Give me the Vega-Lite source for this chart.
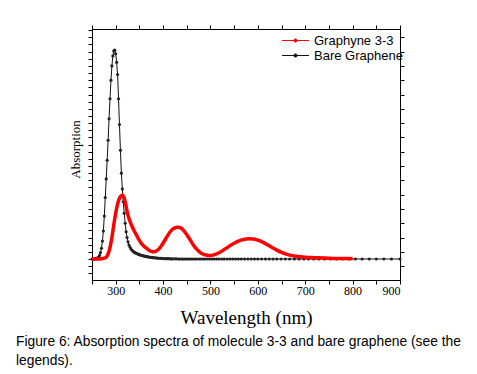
{
"$schema": "https://vega.github.io/schema/vega-lite/v6.json",
"autosize": {"type": "none"},
"width": 308,
"height": 251,
"padding": {"left": 92, "top": 29, "right": 77, "bottom": 94},
"background": "white",
"title": {"text": ["Figure 6: Absorption spectra of molecule 3-3 and bare graphene (see the", "legends)."], "orient": "bottom", "anchor": "start", "frame": "group", "dx": -76, "offset": 8, "font": "Liberation Sans", "fontSize": 13.8, "fontWeight": "normal", "color": "#000", "lineHeight": 19},
"datasets": {
"black": [
{"w":250,"a":0},{"w":252,"a":0},{"w":254,"a":0},{"w":256,"a":0.01},{"w":258,"a":0.02},{"w":260,"a":0.04},{"w":262,"a":0.08},{"w":264,"a":0.14},{"w":266,"a":0.25},{"w":268,"a":0.45},{"w":270,"a":0.75},{"w":272,"a":1.25},{"w":274,"a":1.95},{"w":276,"a":3.0},{"w":278,"a":4.3},{"w":280,"a":5.6},{"w":282,"a":6.9},{"w":284,"a":8.3},{"w":286,"a":9.8},{"w":288,"a":11.2},{"w":290,"a":12.5},{"w":292,"a":13.5},{"w":294,"a":14.2},{"w":296,"a":14.55},{"w":298,"a":14.6},{"w":300,"a":14.35},{"w":302,"a":13.75},{"w":304,"a":12.9},{"w":306,"a":11.2},{"w":308,"a":9.4},{"w":310,"a":7.6},{"w":312,"a":6.0},{"w":314,"a":4.9},{"w":316,"a":4.0},{"w":318,"a":3.2},{"w":320,"a":2.5},{"w":322,"a":1.9},{"w":324,"a":1.5},{"w":326,"a":1.2},{"w":328,"a":0.98},{"w":330,"a":0.84},{"w":332,"a":0.72},{"w":334,"a":0.63},{"w":336,"a":0.56},{"w":338,"a":0.5},{"w":340,"a":0.46},{"w":342,"a":0.42},{"w":344,"a":0.39},{"w":346,"a":0.36},{"w":348,"a":0.33},{"w":350,"a":0.3},{"w":352,"a":0.28},{"w":354,"a":0.26},{"w":357,"a":0.23},{"w":359,"a":0.21},{"w":361,"a":0.2},{"w":363,"a":0.18},{"w":366,"a":0.16},{"w":368,"a":0.15},{"w":370,"a":0.14},{"w":373,"a":0.12},{"w":375,"a":0.11},{"w":378,"a":0.1},{"w":380,"a":0.09},{"w":383,"a":0.08},{"w":386,"a":0.07},{"w":388,"a":0.06},{"w":391,"a":0.05},{"w":394,"a":0.05},{"w":397,"a":0.04},{"w":400,"a":0.03},{"w":403,"a":0.03},{"w":406,"a":0.02},{"w":409,"a":0.02},{"w":412,"a":0.02},{"w":415,"a":0.01},{"w":418,"a":0.01},{"w":421,"a":0.01},{"w":425,"a":0.01},{"w":428,"a":0.01},{"w":432,"a":0},{"w":435,"a":0},{"w":439,"a":0},{"w":442,"a":0},{"w":446,"a":0},{"w":450,"a":0},{"w":454,"a":0},{"w":458,"a":0},{"w":462,"a":0},{"w":466,"a":0},{"w":470,"a":0},{"w":475,"a":0},{"w":479,"a":0},{"w":484,"a":0},{"w":488,"a":0},{"w":493,"a":0},{"w":498,"a":0},{"w":503,"a":0},{"w":508,"a":0},{"w":513,"a":0},{"w":518,"a":0},{"w":524,"a":0},{"w":529,"a":0},{"w":535,"a":0},{"w":541,"a":0},{"w":547,"a":0},{"w":553,"a":0},{"w":559,"a":0},{"w":565,"a":0},{"w":572,"a":0},{"w":579,"a":0},{"w":586,"a":0},{"w":593,"a":0},{"w":600,"a":0},{"w":608,"a":0},{"w":616,"a":0},{"w":624,"a":0},{"w":632,"a":0},{"w":640,"a":0},{"w":649,"a":0},{"w":658,"a":0},{"w":667,"a":0},{"w":677,"a":0},{"w":687,"a":0},{"w":697,"a":0},{"w":707,"a":0},{"w":718,"a":0},{"w":729,"a":0},{"w":741,"a":0},{"w":753,"a":0},{"w":766,"a":0},{"w":779,"a":0},{"w":792,"a":0},{"w":806,"a":0},{"w":820,"a":0},{"w":835,"a":0},{"w":850,"a":0},{"w":866,"a":0},{"w":882,"a":0},{"w":900,"a":0}
],
"red": [
{"w":250,"a":0},{"w":260,"a":0},{"w":270,"a":0.02},{"w":275,"a":0.05},{"w":280,"a":0.12},{"w":284,"a":0.35},{"w":288,"a":0.8},{"w":292,"a":1.5},{"w":296,"a":2.4},{"w":300,"a":3.2},{"w":304,"a":3.85},{"w":308,"a":4.25},{"w":312,"a":4.42},{"w":314,"a":4.45},{"w":317,"a":4.35},{"w":320,"a":4.0},{"w":323,"a":3.5},{"w":326,"a":3.05},{"w":330,"a":2.65},{"w":335,"a":2.25},{"w":340,"a":1.9},{"w":345,"a":1.6},{"w":350,"a":1.3},{"w":355,"a":1.05},{"w":360,"a":0.88},{"w":365,"a":0.75},{"w":370,"a":0.62},{"w":375,"a":0.53},{"w":380,"a":0.5},{"w":385,"a":0.55},{"w":390,"a":0.66},{"w":395,"a":0.85},{"w":400,"a":1.1},{"w":405,"a":1.38},{"w":410,"a":1.65},{"w":415,"a":1.9},{"w":420,"a":2.08},{"w":425,"a":2.18},{"w":430,"a":2.22},{"w":435,"a":2.2},{"w":440,"a":2.1},{"w":445,"a":1.93},{"w":450,"a":1.7},{"w":455,"a":1.45},{"w":460,"a":1.18},{"w":465,"a":0.93},{"w":470,"a":0.72},{"w":475,"a":0.55},{"w":480,"a":0.42},{"w":485,"a":0.33},{"w":490,"a":0.28},{"w":495,"a":0.25},{"w":500,"a":0.25},{"w":505,"a":0.27},{"w":510,"a":0.32},{"w":520,"a":0.47},{"w":530,"a":0.68},{"w":540,"a":0.9},{"w":550,"a":1.1},{"w":560,"a":1.26},{"w":570,"a":1.36},{"w":580,"a":1.41},{"w":590,"a":1.4},{"w":600,"a":1.32},{"w":610,"a":1.18},{"w":620,"a":1.0},{"w":630,"a":0.8},{"w":640,"a":0.62},{"w":650,"a":0.46},{"w":660,"a":0.34},{"w":670,"a":0.25},{"w":680,"a":0.19},{"w":690,"a":0.15},{"w":700,"a":0.12},{"w":720,"a":0.09},{"w":740,"a":0.06},{"w":760,"a":0.04},{"w":780,"a":0.03},{"w":800,"a":0.02}
]
},
"layer": [
{"data": {"name": "black"}, "mark": {"type": "line", "strokeWidth": 1},
 "encoding": {
  "x": {"field": "w", "type": "quantitative", "scale": {"domain": [250, 900], "nice": false, "zero": false},
   "axis": {"orient": "bottom", "values": [250,300,350,400,450,500,550,600,650,700,750,800,850,900], "labelExpr": "datum.value % 100 == 0 ? datum.label : ''", "tickSize": 4, "labelPadding": 1, "labelFont": "Liberation Serif", "labelFontSize": 12, "labelColor": "#000", "title": "Wavelength (nm)", "titleFont": "Liberation Serif", "titleFontSize": 19, "titleFontWeight": "normal", "titleColor": "#000", "titlePadding": 12}},
  "y": {"field": "a", "type": "quantitative", "scale": {"domain": [-1.47, 16.08], "nice": false, "zero": false},
   "axis": {"orient": "left", "values": [-1,-0.5,0,0.5,1,1.5,2,2.5,3,3.5,4,4.5,5,5.5,6,6.5,7,7.5,8,8.5,9,9.5,10,10.5,11,11.5,12,12.5,13,13.5,14,14.5,15,15.5,16], "labels": false, "tickSize": 4, "title": "Absorption", "titleFont": "Liberation Serif", "titleFontSize": 13, "titleFontWeight": "normal", "titleColor": "#000", "titlePadding": 5, "titleY": 120}},
  "color": {"datum": "Bare Graphene", "type": "nominal", "scale": {"domain": ["Graphyne 3-3", "Bare Graphene"], "range": ["#ff0000", "#111111"]},
  "legend": {"title": null, "orient": "none", "legendX": 197, "legendY": 5, "labelFont": "Liberation Sans", "labelFontSize": 13, "labelColor": "#000", "symbolType": "M-2.25,0H2.25M0.27,0A0.27,0.27 0 1,1 -0.27,0A0.27,0.27 0 1,1 0.27,0Z", "symbolSize": 144, "symbolStrokeWidth": 1, "labelOffset": 12, "rowPadding": 1,
   "encode": {"symbols": {"update": {"fill": {"scale": "color", "field": "value"}}}}}}}},
{"data": {"name": "black"}, "mark": {"type": "point", "shape": "circle", "filled": true, "size": 10, "color": "#222222", "opacity": 1},
 "encoding": {"x": {"field": "w", "type": "quantitative", "axis": null}, "y": {"field": "a", "type": "quantitative", "axis": null}}},
{"data": {"name": "red"}, "mark": {"type": "line", "strokeWidth": 3.5, "interpolate": "monotone"},
 "encoding": {"x": {"field": "w", "type": "quantitative", "axis": null}, "y": {"field": "a", "type": "quantitative", "axis": null}, "color": {"datum": "Graphyne 3-3", "type": "nominal"}}},
{"data": {"values": []}, "mark": {"type": "rule"},
 "encoding": {
  "x": {"field": "w", "type": "quantitative", "axis": {"orient": "top", "values": [250,300,350,400,450,500,550,600,650,700,750,800,850,900], "labels": false, "tickSize": 4, "title": null}},
  "y": {"field": "a", "type": "quantitative", "axis": {"orient": "right", "values": [-0.5,0.5,1.5,2.5,3.5,4.5,5.5,6.5,7.5,8.5,9.5,10.5,11.5,12.5,13.5,14.5,15.5], "labels": false, "tickSize": 4, "title": null}}}}
],
"resolve": {"axis": {"x": "independent", "y": "independent"}, "scale": {"x": "shared", "y": "shared"}},
"config": {"axis": {"grid": false, "domainColor": "#000", "tickColor": "#000"}, "view": {"stroke": "#000", "strokeWidth": 1}}
}
